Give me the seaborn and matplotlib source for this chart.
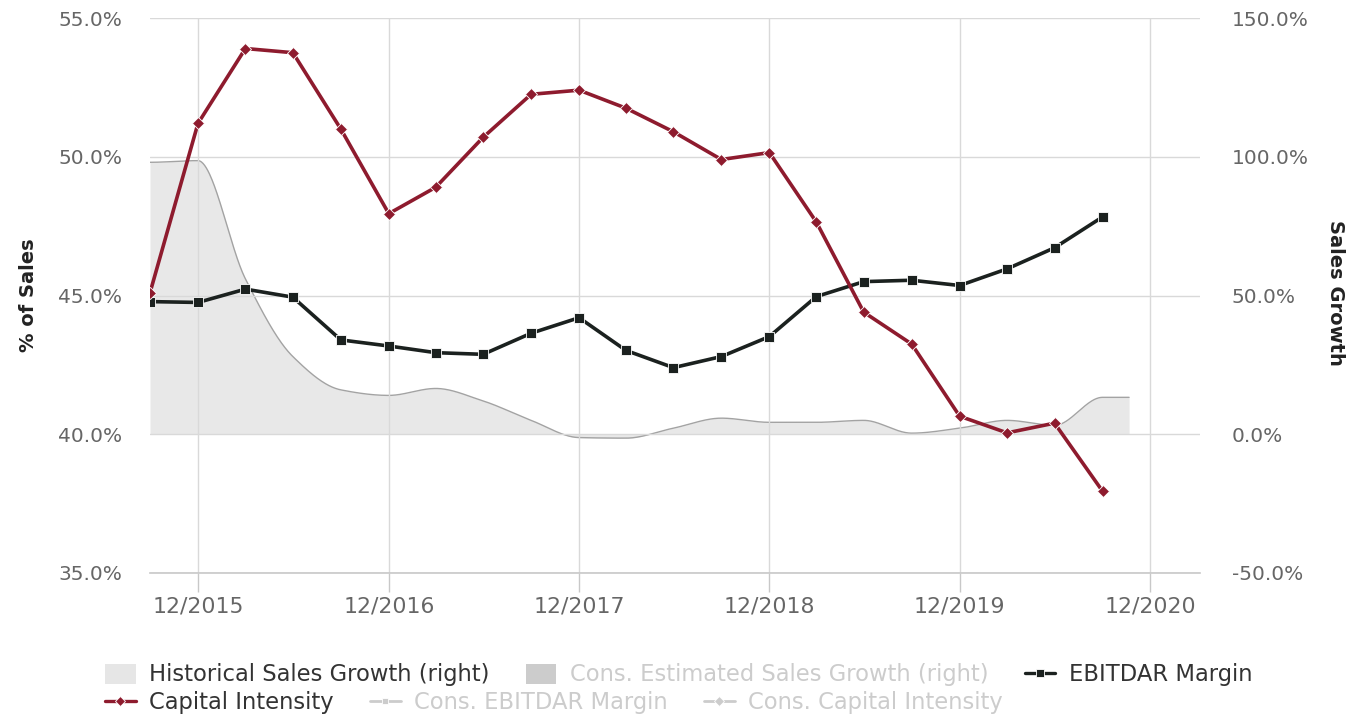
import numpy as np
import pandas as pd
import matplotlib
matplotlib.use("Agg")
import matplotlib.pyplot as plt
import matplotlib.dates as mdates
from matplotlib.lines import Line2D
from matplotlib.patches import Patch
import seaborn as sns

# ---------------- data ----------------
quarter_dates = ["2015-09-30", "2015-12-31", "2016-03-31", "2016-06-30", "2016-09-30",
                 "2016-12-31", "2017-03-31", "2017-06-30", "2017-09-30", "2017-12-31",
                 "2018-03-31", "2018-06-30", "2018-09-30", "2018-12-31", "2019-03-31",
                 "2019-06-30", "2019-09-30", "2019-12-31", "2020-03-31", "2020-06-30",
                 "2020-09-30"]
capital_intensity = [45.1, 51.2, 53.9, 53.75, 51.0, 47.95, 48.9, 50.7, 52.25, 52.4, 51.75,
                     50.9, 49.9, 50.15, 47.65, 44.4, 43.25, 40.65, 40.05, 40.4, 37.95]
ebitdar_margin = [44.78, 44.75, 45.23, 44.94, 43.4, 43.18, 42.94, 42.88, 43.64, 44.2, 43.02,
                  42.4, 42.8, 43.52, 44.96, 45.5, 45.55, 45.36, 45.96, 46.72, 47.83]
growth_dates = quarter_dates + ["2020-11-20"]
sales_growth = [98.0, 98.6, 56.0, 28.0, 16.0, 14.0, 16.5, 12.0, 5.0, -1.2, -1.4, 2.2, 5.8,
                4.3, 4.3, 5.0, 0.4, 2.2, 5.0, 3.2, 13.3, 13.3]
tick_dates = ["2015-12-31", "2016-12-31", "2017-12-31", "2018-12-31", "2019-12-31", "2020-12-31"]
tick_labels = ["12/2015", "12/2016", "12/2017", "12/2018", "12/2019", "12/2020"]
left_ticks = [35, 40, 45, 50, 55]
right_ticks = [-50, 0, 50, 100, 150]

RED = "#8e1b2e"
BLACK = "#1b211f"
FILL = "#e8e8e8"
GRID = "#d9d9d9"
TICKC = "#666666"
HIDDEN = "#cccccc"


def smooth(x, y, n=1200):
    """Monotone cubic rendering of a spline area (display only)."""
    x = np.asarray(x, float)
    y = np.asarray(y, float)
    h = np.diff(x)
    d = np.diff(y) / h
    m = np.zeros_like(y)
    for k in range(1, len(y) - 1):
        if d[k - 1] * d[k] > 0:
            w1 = 2 * h[k] + h[k - 1]
            w2 = h[k] + 2 * h[k - 1]
            m[k] = (w1 + w2) / (w1 / d[k - 1] + w2 / d[k])
    m[0] = 0.0
    m[-1] = 0.0
    xs = np.linspace(x[0], x[-1], n)
    idx = np.clip(np.searchsorted(x, xs, side="right") - 1, 0, len(x) - 2)
    t = (xs - x[idx]) / h[idx]
    h00 = 2 * t**3 - 3 * t**2 + 1
    h10 = t**3 - 2 * t**2 + t
    h01 = -2 * t**3 + 3 * t**2
    h11 = t**3 - t**2
    ys = h00 * y[idx] + h10 * h[idx] * m[idx] + h01 * y[idx + 1] + h11 * h[idx] * m[idx + 1]
    return xs, ys


sns.set_theme(style="white")
plt.rcParams["font.family"] = ["DejaVu Sans"]

qx = mdates.date2num(pd.to_datetime(quarter_dates))
gx = mdates.date2num(pd.to_datetime(growth_dates))
tx = mdates.date2num(pd.to_datetime(tick_dates))

df = pd.DataFrame({"date": qx, "Capital Intensity": capital_intensity,
                   "EBITDAR Margin": ebitdar_margin})

fig = plt.figure(figsize=(13.71, 7.19), dpi=100)
fig.patch.set_facecolor("white")
ax = fig.add_axes([150 / 1371, 1 - 573 / 719, 1050 / 1371, 555 / 719])
ax2 = ax.twinx()
ax.set_zorder(2)
ax2.set_zorder(1)
ax.patch.set_visible(False)

# area on right axis
sx, sy = smooth(gx, sales_growth)
ax2.fill_between(sx, sy, 0, color=FILL, linewidth=0, zorder=1)
sns.lineplot(x=sx, y=sy, ax=ax2, color="#a3a3a3", linewidth=1.0, zorder=2, sort=False)

# lines on left axis
sns.lineplot(data=df, x="date", y="EBITDAR Margin", ax=ax, color=BLACK, linewidth=2.6,
             marker="s", markersize=6.5, markeredgecolor="white", markeredgewidth=0.6,
             zorder=4)
sns.lineplot(data=df, x="date", y="Capital Intensity", ax=ax, color=RED, linewidth=2.6,
             marker="D", markersize=6, markeredgecolor="white", markeredgewidth=0.6,
             zorder=5)

xmin = mdates.date2num(pd.Timestamp("2015-09-30"))
xmax = mdates.date2num(pd.Timestamp("2021-04-05"))
ax.set_xlim(xmin, xmax)
ax.set_ylim(35, 55)
ax2.set_ylim(-50, 150)

ax.set_xticks(tx)
ax.set_xticklabels(tick_labels)
ax.set_yticks(left_ticks)
ax.set_yticklabels([f"{v:.1f}%" for v in left_ticks])
ax2.set_yticks(right_ticks)
ax2.set_yticklabels([f"{v:.1f}%" for v in right_ticks])

ax.grid(True, axis="both", color=GRID, linewidth=1.0, zorder=0)
ax.set_axisbelow(True)
ax2.grid(False)

for a in (ax, ax2):
    for s in a.spines.values():
        s.set_visible(False)
ax.spines["bottom"].set_visible(True)
ax.spines["bottom"].set_color("#c8c8c8")
ax.spines["bottom"].set_linewidth(1.2)

ax.tick_params(axis="x", length=14, width=1.0, color="#c8c8c8", pad=3,
               labelsize=15.8, labelcolor=TICKC, bottom=True)
ax.tick_params(axis="y", length=0, pad=20, labelsize=14.5, labelcolor=TICKC)
ax2.tick_params(axis="y", length=0, pad=23, labelsize=14.5, labelcolor=TICKC)

ax.set_xlabel("")
ax.set_ylabel("")
ax2.set_ylabel("")
fig.text(28 / 1371, 1 - 295 / 719, "% of Sales", rotation=90, ha="center", va="center",
         fontsize=14, fontweight="bold", color="#222222")
fig.text(1336 / 1371, 1 - 293 / 719, "Sales Growth", rotation=270, ha="center", va="center",
         fontsize=14, fontweight="bold", color="#222222")

# legends (two rows, flowing left to right)
row1 = [Patch(facecolor="#e6e6e6", edgecolor="none"),
        Patch(facecolor=HIDDEN, edgecolor="none"),
        Line2D([0], [0], color=BLACK, lw=2.4, marker="s", markersize=6,
               markeredgecolor="white", markeredgewidth=0.6)]
row1_labels = ["Historical Sales Growth (right)", "Cons. Estimated Sales Growth (right)",
               "EBITDAR Margin"]
row2 = [Line2D([0], [0], color=RED, lw=2.4, marker="D", markersize=5.5,
               markeredgecolor="white", markeredgewidth=0.6),
        Line2D([0], [0], color=HIDDEN, lw=2.0, marker="s", markersize=5,
               markeredgecolor="white", markeredgewidth=0.6),
        Line2D([0], [0], color=HIDDEN, lw=2.0, marker="D", markersize=5,
               markeredgecolor="white", markeredgewidth=0.6)]
row2_labels = ["Capital Intensity", "Cons. EBITDAR Margin", "Cons. Capital Intensity"]

common = dict(loc="center left", ncol=3, frameon=False, borderpad=0, borderaxespad=0,
              handlelength=1.35, handleheight=1.0, handletextpad=0.6, columnspacing=1.6,
              fontsize=16.3)
leg1 = fig.legend(row1, row1_labels, bbox_to_anchor=(105 / 1371, 1 - 675 / 719), **common)
leg2 = fig.legend(row2, row2_labels, bbox_to_anchor=(105 / 1371, 1 - 703 / 719), **common)
for t, c in zip(leg1.get_texts(), ["#333333", HIDDEN, "#333333"]):
    t.set_color(c)
for t, c in zip(leg2.get_texts(), ["#333333", HIDDEN, HIDDEN]):
    t.set_color(c)

fig.savefig("out.png", dpi=100, facecolor="white")
